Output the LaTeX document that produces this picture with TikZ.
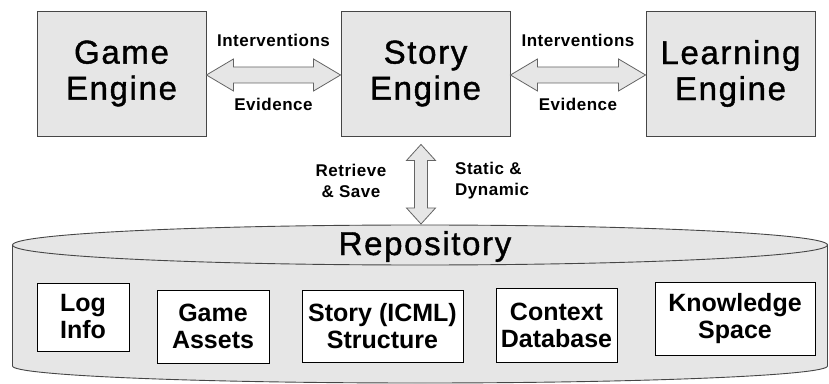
\documentclass[tikz,border=0pt]{standalone}
\usepackage{fontspec}
\setmainfont{Liberation Sans}
\newfontfamily\titlef[LetterSpace=5,FakeBold=1.2]{Liberation Sans}
\newfontfamily\labf[LetterSpace=3]{Liberation Sans}
\usetikzlibrary{calc}
\definecolor{boxgray}{RGB}{230,230,230}
\definecolor{edgegray}{RGB}{70,70,70}
\definecolor{arrgray}{RGB}{100,100,100}
\begin{document}
\begin{tikzpicture}[x=1pt,y=1pt,
  engine/.style={draw=edgegray,fill=boxgray,line width=0.9pt,minimum width=169pt,minimum height=125pt,
     inner sep=0pt,align=center,font=\titlef\fontsize{33}{36}\selectfont},
  store/.style={draw=black,fill=white,line width=0.9pt,inner sep=0pt,align=center,
     font=\bfseries\fontsize{25}{27}\selectfont},
  lab/.style={inner sep=0pt,font=\labf\bfseries\fontsize{17}{21}\selectfont},
  fatarrow/.style={draw=arrgray,fill=boxgray,line width=0.8pt,line join=miter}]
\useasboundingbox (0,0) rectangle (829,383);
% engines
\node[engine] (ge) at (121.5,309.5) {Game\\Engine};
\node[engine] (se) at (425.5,309.5) {Story\\Engine};
\node[engine] (le) at (730.5,309.5) {Learning\\Engine};
% repository cylinder
\fill[boxgray] (12.5,138) -- (12.5,17) arc[start angle=180,end angle=360,x radius=407.5,y radius=17]
  -- (827.5,138) arc[start angle=0,end angle=180,x radius=407.5,y radius=20] -- cycle;
\draw[edgegray,line width=0.9pt] (12.5,138) -- (12.5,17) arc[start angle=180,end angle=360,x radius=407.5,y radius=17] -- (827.5,138);
\draw[edgegray,line width=0.9pt] (420,138) ellipse[x radius=407.5,y radius=20];
\coordinate (repotop) at (421,159);
\node[anchor=base,inner sep=0pt,font=\titlef\fontsize{33}{36}\selectfont] (repo) at (425,128) {Repository};
% stores
\node[store,minimum width=92pt,minimum height=68pt] (log) at (83,66) {Log\\Info};
\node[store,minimum width=112pt,minimum height=73pt] (assets) at (213,56.5) {Game\\Assets};
\node[store,minimum width=161pt,minimum height=72pt] (icml) at (382.5,57) {Story (ICML)\\Structure};
\node[store,minimum width=121pt,minimum height=74pt] (ctx) at (556.5,58) {Context\\Database};
\node[store,minimum width=160pt,minimum height=73pt] (ks) at (735,64.5) {Knowledge\\Space};
% horizontal double arrows
\coordinate (l1) at ($(ge.east)+(0,-1.5)$);
\coordinate (r1) at ($(se.west)+(0,-1.5)$);
\draw[fatarrow] (l1) -- ++(27,16) -- ++(0,-8) -- ($(r1)+(-27,8)$) -- ++(0,8) -- (r1)
  -- ++(-27,-16) -- ++(0,8) -- ($(l1)+(27,-8)$) -- ++(0,-8) -- cycle;
\coordinate (l2) at ($(se.east)+(0,-1.5)$);
\coordinate (r2) at ($(le.west)+(0,-1.5)$);
\draw[fatarrow] (l2) -- ++(27,16) -- ++(0,-8) -- ($(r2)+(-27,8)$) -- ++(0,8) -- (r2)
  -- ++(-27,-16) -- ++(0,8) -- ($(l2)+(27,-8)$) -- ++(0,-8) -- cycle;
\node[lab] (int1) at ($(l1)!0.5!(r1)+(0,35)$) {Interventions};
\node[lab] (ev1) at ($(l1)!0.5!(r1)+(0,-29.5)$) {Evidence};
\node[lab] (int2) at ($(l2)!0.5!(r2)+(0,35)$) {Interventions};
\node[lab] (ev2) at ($(l2)!0.5!(r2)+(0,-29.5)$) {Evidence};
% vertical double arrow
\coordinate (vt) at ($(se.south)+(-4.5,-8)$);
\draw[fatarrow] (vt) -- ++(14.5,-16) -- ++(-8,0) -- ($(repotop)+(6.5,16)$) -- ++(8,0) -- (repotop)
  -- ++(-14.5,16) -- ++(8,0) -- ($(vt)+(-6.5,-16)$) -- ++(-8,0) -- cycle;
\node[lab,align=center] (rs) at (351,202.5) {Retrieve\\\& Save};
\node[lab,align=left,anchor=west] (sd) at (455,202.5) {Static \&\\Dynamic};
\end{tikzpicture}
\end{document}
